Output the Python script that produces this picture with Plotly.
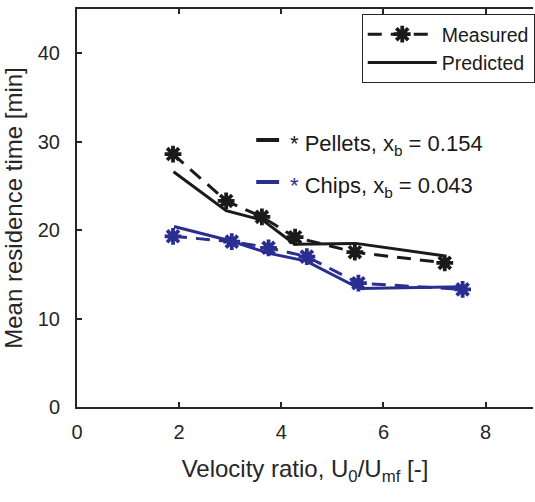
import plotly.graph_objects as go

# Data
pellets_x_meas = [1.88, 2.92, 3.62, 4.27, 5.44, 7.20]
pellets_y_meas = [28.6, 23.3, 21.5, 19.2, 17.5, 16.3]
pellets_x_pred = [1.89, 2.92, 3.64, 4.26, 5.46, 7.18]
pellets_y_pred = [26.6, 22.2, 21.1, 18.4, 18.5, 17.1]

chips_x_meas = [1.88, 3.03, 3.75, 4.50, 5.51, 7.55]
chips_y_meas = [19.3, 18.7, 18.0, 17.0, 14.0, 13.3]
chips_x_pred = [1.90, 3.00, 3.74, 4.49, 5.53, 7.57]
chips_y_pred = [20.4, 18.8, 17.4, 16.5, 13.4, 13.6]

x_ticks = [0, 2, 4, 6, 8]
y_ticks = [0, 10, 20, 30, 40]

BLACK = "#1a1a1a"
BLUE = "#2b2e91"
AX = "#262626"
FONT = "Liberation Sans"

W, H = 535, 502
L, R, T, B = 77, 0, 9, 95
PX_PER_X = 51.3
x_max = (W - L - R) / PX_PER_X

def px(xp):
    return (xp - L) / (W - L - R)

def py(yp):
    return (H - B - yp) / (H - B - T)

dash = "14px,9px"
marker_meas = lambda c: dict(symbol="asterisk-open", size=14, color=c,
                             line=dict(color=c, width=3.8))

fig = go.Figure()
fig.add_trace(go.Scatter(x=pellets_x_meas, y=pellets_y_meas, mode="lines+markers",
                         name="Measured", line=dict(color=BLACK, width=3, dash=dash),
                         marker=marker_meas(BLACK)))
fig.add_trace(go.Scatter(x=pellets_x_pred, y=pellets_y_pred, mode="lines",
                         name="Predicted", line=dict(color=BLACK, width=3)))
fig.add_trace(go.Scatter(x=chips_x_meas, y=chips_y_meas, mode="lines+markers",
                         showlegend=False, line=dict(color=BLUE, width=3, dash=dash),
                         marker=marker_meas(BLUE)))
fig.add_trace(go.Scatter(x=chips_x_pred, y=chips_y_pred, mode="lines",
                         showlegend=False, line=dict(color=BLUE, width=3)))

# In-plot key for materials
for yline, col, txt in [
    (140, BLACK, "<span style='color:%s'>*</span> Pellets, x<sub>b</sub> = 0.154" % BLACK),
    (182, BLUE, "<span style='color:%s'>*</span> Chips, x<sub>b</sub> = 0.043" % BLUE),
]:
    fig.add_shape(type="line", xref="paper", yref="paper",
                  x0=px(257), x1=px(280), y0=py(yline), y1=py(yline),
                  line=dict(color=col, width=4))
    fig.add_annotation(xref="paper", yref="paper", x=px(289), y=py(yline + 5),
                       xanchor="left", yanchor="middle", showarrow=False,
                       text=txt, font=dict(family=FONT, size=22, color=BLACK))

fig.update_layout(
    width=W, height=H,
    margin=dict(l=L, r=R, t=T, b=B),
    plot_bgcolor="white", paper_bgcolor="white",
    font=dict(family=FONT, color=AX),
    legend=dict(x=px(363), y=py(14), xanchor="left", yanchor="top",
                bgcolor="white", bordercolor=AX, borderwidth=1,
                font=dict(family=FONT, size=19.5, color=BLACK),
                itemwidth=69, tracegroupgap=0),
    xaxis=dict(range=[0, x_max], tickvals=x_ticks, ticktext=[str(v) for v in x_ticks],
               showgrid=False, zeroline=False, showline=True, linecolor=AX, linewidth=2,
               mirror="ticks", ticks="inside", ticklen=5, tickwidth=2, tickcolor=AX,
               tickfont=dict(family=FONT, size=20, color=AX), ticklabelstandoff=6,
               title=dict(text="Velocity ratio, U<sub>0</sub>/U<sub>mf</sub> [-]",
                          font=dict(family=FONT, size=24, color=AX), standoff=18)),
    yaxis=dict(range=[0, 45], tickvals=y_ticks, ticktext=[str(v) for v in y_ticks],
               showgrid=False, zeroline=False, showline=True, linecolor=AX, linewidth=2,
               ticks="inside", ticklen=5, tickwidth=2, tickcolor=AX,
               tickfont=dict(family=FONT, size=20, color=AX), ticklabelstandoff=11,
               title=dict(text="Mean residence time [min]",
                          font=dict(family=FONT, size=24, color=AX), standoff=8)),
)

fig.write_html("out.html")
